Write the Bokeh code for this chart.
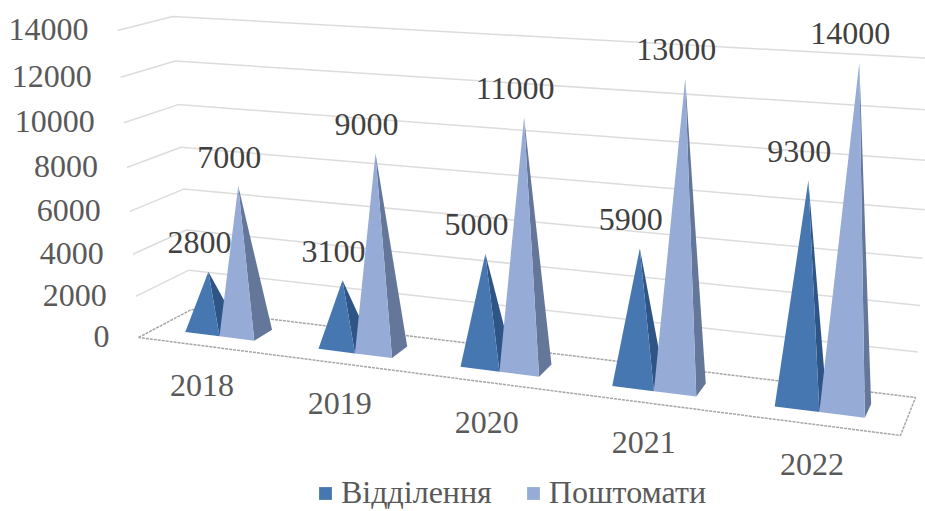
from bokeh.core.properties import value
from bokeh.embed import file_html
from bokeh.models import ColumnDataSource, Legend, LegendItem, Range1d
from bokeh.plotting import figure
from bokeh.resources import INLINE

categories = ["2018", "2019", "2020", "2021", "2022"]
branches = [2800, 3100, 5000, 5900, 9300]
lockers = [7000, 9000, 11000, 13000, 14000]
value_ticks = [0, 2000, 4000, 6000, 8000, 10000, 12000, 14000]
series_names = ["Відділення", "Поштомати"]

AXIS_MAX = 14000
FONT = "Liberation Serif"
BLUE, BLUE_SIDE = "#4677b0", "#2e5586"
LIGHT, LIGHT_SIDE = "#96abd5", "#64779a"

# Camera of the 3-D scene: screen position of the eight corners of the box,
# indexed by (across, depth, height).
CORNERS = {
    (0, 0, 0): (138, 337), (0, 0, 1): (117, 30),
    (0, 1, 0): (191, 309), (0, 1, 1): (172, 16),
    (1, 0, 0): (900, 435), (1, 0, 1): (917, 74),
    (1, 1, 0): (915, 397), (1, 1, 1): (932, 58),
}


def across(c):
    """Category coordinate -> fraction of the width, with perspective."""
    return (129.26 * c + 63.5) / (749.5 - 23.4 * c)


def lift(v):
    """Value -> fraction of the height, with perspective."""
    h = v / AXIS_MAX
    return 0.93 * h / (1 - 0.07 * h)


def project(u, d, h):
    x = y = 0.0
    for (a, b, c), (px, py) in CORNERS.items():
        w = (u if a else 1 - u) * (d if b else 1 - d) * (h if c else 1 - h)
        x += w * px
        y += w * py
    return x, y


p = figure(width=925, height=511, x_range=Range1d(0, 925), y_range=Range1d(511, 0),
           toolbar_location=None, output_backend="svg", min_border=0)
p.axis.visible = False
p.grid.visible = False
p.outline_line_color = None

# gridlines on the side wall and back wall
for v in value_ticks[1:]:
    h = lift(v)
    pts = [project(0, 0, h), project(0, 1, h), project(1, 1, h)]
    p.line([q[0] for q in pts], [q[1] for q in pts], line_color="#dcdcdc", line_width=1.5)

# floor
floor = [project(0, 0, 0), project(0, 1, 0), project(1, 1, 0), project(1, 0, 0), project(0, 0, 0)]
p.line([q[0] for q in floor], [q[1] for q in floor], line_color="#a6a6a6", line_width=1.5, line_dash="3 1")

# pyramids
WIDTH = 0.263
DEPTH_FRONT, DEPTH_BACK = 0.33, 0.70
legend_renderers = []
apexes = []
for s, (vals, front, side, lo, hi) in enumerate([
    (branches, BLUE, BLUE_SIDE, -WIDTH, 0.0),
    (lockers, LIGHT, LIGHT_SIDE, 0.0, WIDTH),
]):
    fx, fy, sx, sy, ax, ay = [], [], [], [], [], []
    for i, v in enumerate(vals):
        u0, u1 = across(i + lo), across(i + hi)
        fl = project(u0, DEPTH_FRONT, 0)
        fr = project(u1, DEPTH_FRONT, 0)
        br = project(u1, DEPTH_BACK, 0)
        apex = project((u0 + u1) / 2, (DEPTH_FRONT + DEPTH_BACK) / 2, lift(v))
        fx.append([fl[0], fr[0], apex[0]])
        fy.append([fl[1], fr[1], apex[1]])
        sx.append([fr[0], br[0], apex[0]])
        sy.append([fr[1], br[1], apex[1]])
        ax.append(apex[0])
        ay.append(apex[1])
    apexes.append((ax, ay, vals))
    p.patches(sx, sy, fill_color=side, line_color=None)
    r = p.patches(fx, fy, fill_color=front, line_color=None)
    legend_renderers.append(r)

# value labels
for ax, ay, vals in apexes:
    src = ColumnDataSource(dict(x=ax, y=ay, t=[str(v) for v in vals]))
    p.text("x", "y", "t", source=src, x_offset=-9, y_offset=-29, text_align="center",
           text_baseline="middle", text_font=value(FONT), text_font_size="32px", text_color="#404040")

# value-axis labels
tick_pts = [project(0, 0, lift(v)) for v in value_ticks]
p.text([q[0] for q in tick_pts], [q[1] for q in tick_pts], [str(v) for v in value_ticks],
       x_offset=-29, y_offset=-1, text_align="right", text_baseline="middle", text_font=value(FONT),
       text_font_size="32px", text_color="#595959")

# category labels
cat_pts = [project(across(i), 0, 0) for i in range(len(categories))]
p.text([q[0] for q in cat_pts], [q[1] for q in cat_pts], categories,
       x_offset=-1, y_offset=40, text_align="center", text_baseline="middle", text_font=value(FONT),
       text_font_size="32px", text_color="#595959")

legend = Legend(
    items=[LegendItem(label=n, renderers=[r]) for n, r in zip(series_names, legend_renderers)],
    orientation="horizontal", location=(317, 0), background_fill_alpha=0, border_line_color=None,
    glyph_width=16, glyph_height=16, spacing=33, label_standoff=8, padding=0, margin=0,
    label_text_font=FONT, label_text_font_size="32px", label_text_color="#595959",
)
p.add_layout(legend, "center")

open("out.html", "w").write(file_html(p, INLINE))
